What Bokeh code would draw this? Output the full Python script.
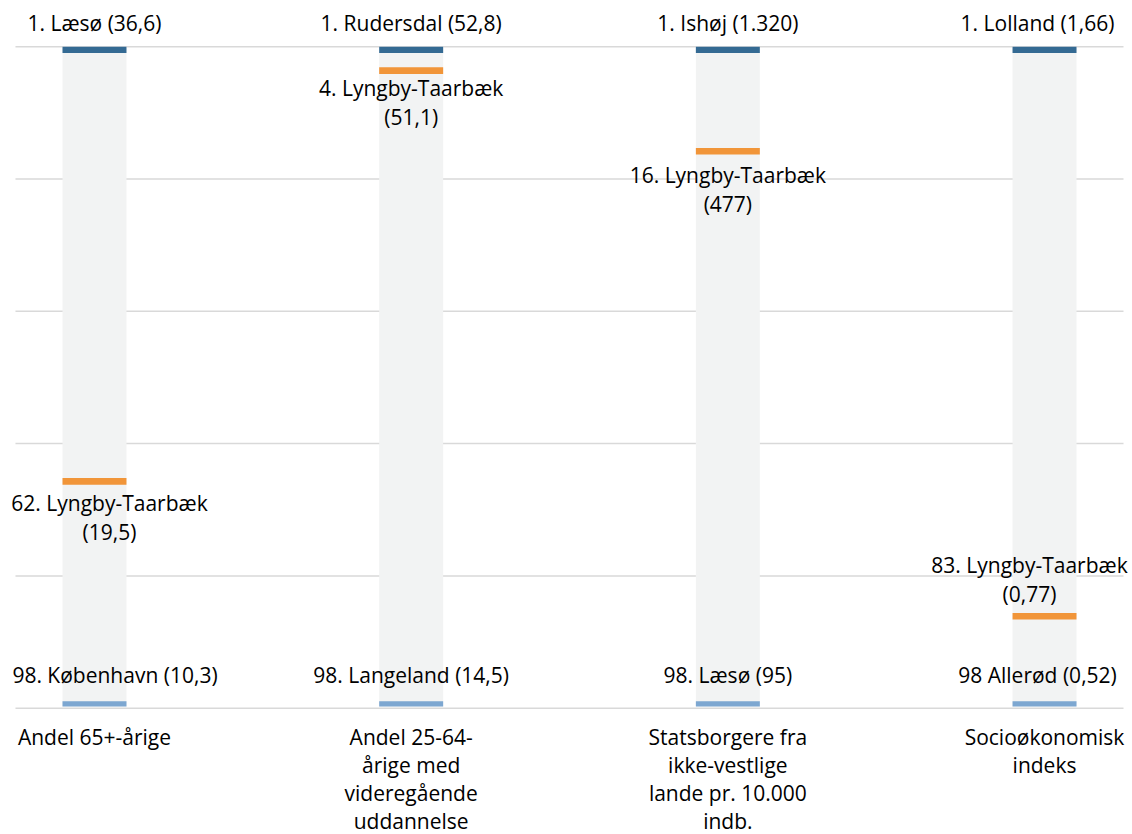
from bokeh.plotting import figure
from bokeh.models import ColumnDataSource, LabelSet, Range1d
from bokeh.core.properties import value
from bokeh.embed import file_html
from bokeh.resources import INLINE

# ---------------- data ----------------
categories = [
    "Andel 65+-årige",
    "Andel 25-64-\nårige med\nvideregående\nuddannelse",
    "Statsborgere fra\nikke-vestlige\nlande pr. 10.000\nindb.",
    "Socioøkonomisk\nindeks",
]
top_labels = ["1. Læsø (36,6)", "1. Rudersdal (52,8)", "1. Ishøj (1.320)", "1. Lolland (1,66)"]
bottom_labels = ["98. København (10,3)", "98. Langeland (14,5)", "98. Læsø (95)", "98 Allerød (0,52)"]
lyngby_rank = [62, 4, 16, 83]
lyngby_value = ["19,5", "51,1", "477", "0,77"]
# position of Lyngby-Taarbæk on the scale (0 = no. 1, 100 = no. 98)
lyngby_pos = [65.2, 3.1, 15.3, 85.6]
scale_ticks = [0, 20, 40, 60, 80, 100]

# ---------------- style ----------------
FONT = value("Open Sans")
FS = "21px"
TXT = "#000000"
C_TOP = "#346A93"
C_MID = "#F19539"
C_BOT = "#7DA7D1"
C_BAR = "#F2F3F3"
C_GRID = "#D9D9D9"
BAR_W = 0.202
MARK = 0.95

# label shifts (keep labels inside the chart area)
top_dx = [0, 0, 0, -7]
bot_dx = [20.5, 0, 0, -7]
mid_dx = [15, 0, 0, -15]
mid_dy = [0, 4.5, -2, 0]

xs = list(range(len(categories)))
lo, hi = scale_ticks[0], scale_ticks[-1]
GX0, GX1 = -0.2495, 3.2494   # horizontal extent of the grid lines

p = figure(width=1132, height=834,
           x_range=Range1d(-0.2968, 3.2778), y_range=Range1d(119.1, -7.0),
           x_axis_type=None, y_axis_type=None,
           toolbar_location=None, output_backend="svg",
           min_border=0, min_border_left=0, min_border_right=0,
           min_border_top=0, min_border_bottom=0,
           outline_line_color=None)
p.xgrid.visible = False
p.ygrid.visible = False
p.background_fill_color = "white"
p.border_fill_color = "white"

# horizontal grid lines
p.segment(x0=[GX0] * len(scale_ticks), x1=[GX1] * len(scale_ticks),
          y0=scale_ticks, y1=scale_ticks, line_color=C_GRID, line_width=1.5)

# background column
p.vbar(x=xs, width=BAR_W, top=[lo] * len(xs), bottom=[hi - 0.25] * len(xs),
       fill_color=C_BAR, line_color=None)
# rank 1 marker
p.vbar(x=xs, width=BAR_W, top=[lo] * len(xs), bottom=[lo + MARK] * len(xs),
       fill_color=C_TOP, line_color=None)
# rank 98 marker
p.vbar(x=xs, width=BAR_W, top=[hi - 0.25 - 0.8] * len(xs), bottom=[hi - 0.25] * len(xs),
       fill_color=C_BOT, line_color=None)
# Lyngby-Taarbæk marker
p.vbar(x=xs, width=BAR_W, top=lyngby_pos, bottom=[v + 1.0 for v in lyngby_pos],
       fill_color=C_MID, line_color=None)


def labels(src):
    ls = LabelSet(x="x", y="y", text="text", source=ColumnDataSource(src),
                  x_offset="dx", y_offset="dy",
                  text_font=FONT, text_font_size=FS, text_color=TXT,
                  text_align="center", text_baseline="alphabetic")
    p.add_layout(ls)


# top labels
labels(dict(x=xs, y=[lo] * len(xs), text=top_labels, dx=top_dx, dy=[15.3] * len(xs)))
# bottom labels
labels(dict(x=xs, y=[hi] * len(xs), text=bottom_labels, dx=bot_dx, dy=[25.4] * len(xs)))

# Lyngby-Taarbæk labels (two lines)
mx, my, mt, mdx, mdy = [], [], [], [], []
for i, (r, v, pos) in enumerate(zip(lyngby_rank, lyngby_value, lyngby_pos)):
    l1 = f"{r}. Lyngby-Taarbæk"
    l2 = f"({v})"
    if pos > 80:  # above the marker
        for line, off in ((l1, 11 + 29), (l2, 11)):
            mx.append(i); my.append(pos); mt.append(line); mdx.append(mid_dx[i]); mdy.append(off + mid_dy[i])
    else:          # below the marker
        for line, off in ((l1, -26.5), (l2, -26.5 - 29)):
            mx.append(i); my.append(pos + 1.0); mt.append(line); mdx.append(mid_dx[i]); mdy.append(off + mid_dy[i])
labels(dict(x=mx, y=my, text=mt, dx=mdx, dy=mdy))

# category labels under the chart
cx, cy, ct, cdx, cdy = [], [], [], [], []
for i, c in enumerate(categories):
    for j, line in enumerate(c.split("\n")):
        cx.append(i); cy.append(hi); ct.append(line); cdx.append(0); cdy.append(-(36.5 + 28 * j))
labels(dict(x=cx, y=cy, text=ct, dx=cdx, dy=cdy))

open("out.html", "w").write(file_html(p, INLINE))
